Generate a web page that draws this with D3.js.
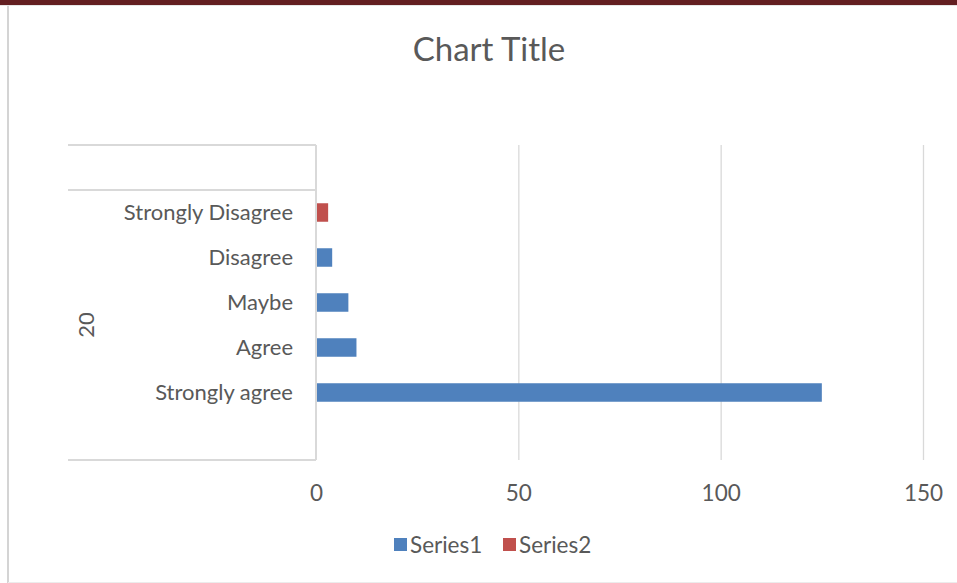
<!DOCTYPE html>
<html><head><meta charset="utf-8">
<script src="https://cdn.jsdelivr.net/npm/d3@7"></script>
<style>
html,body{margin:0;padding:0;background:#fff;}
text{font-family:Lato,"Open Sans",sans-serif;fill:#595959;}
</style></head>
<body>
<svg id="chart" width="957" height="583"></svg>
<script>
const title = "Chart Title";
const categories = ["", "Strongly agree", "Agree", "Maybe", "Disagree", "Strongly Disagree", " "];
const series1 = [null, 125, 10, 8, 4, null, null];
const series2 = [null, null, null, null, null, 3, null];
const seriesNames = ["Series1", "Series2"];
const colors = ["#4f81bd", "#c0504d"];
const xTicks = [0, 50, 100, 150];
const groupLabel = "20";

const svg = d3.select("#chart");
// frame
svg.append("rect").attr("x",0).attr("y",0).attr("width",957).attr("height",5).attr("fill","#631f21");
svg.append("line").attr("x1",0).attr("x2",957).attr("y1",5.5).attr("y2",5.5).attr("stroke","#e6e6e6");
svg.append("line").attr("x1",8).attr("x2",8).attr("y1",6).attr("y2",583).attr("stroke","#d4d4d4").attr("stroke-width",2);
svg.append("line").attr("x1",8).attr("x2",957).attr("y1",582.5).attr("y2",582.5).attr("stroke","#ececec");

const x = d3.scaleLinear().domain([0,150]).range([316,923]);
const yOuter = d3.scaleBand().domain(categories.slice().reverse()).range([145,460]).padding(0);

// gridlines
const xAxis = d3.axisBottom(x).tickValues(xTicks).tickSize(-(460-145)).tickPadding(25);
const gx = svg.append("g").attr("transform","translate(0,460)").call(xAxis);
gx.select(".domain").remove();
gx.selectAll(".tick line").attr("stroke","#d9d9d9").attr("stroke-width",1.3);
gx.selectAll(".tick text").style("font-size","22.5px").style("font-family","Lato").style("fill","#595959");
gx.selectAll(".tick").filter(d=>d===0).select("line").remove();

// category axis
svg.append("line").attr("x1",316).attr("x2",316).attr("y1",145).attr("y2",460).attr("stroke","#d9d9d9").attr("stroke-width",2);
const topBlank = categories[categories.length-1];
const hLines = [yOuter.range()[0], yOuter(topBlank)+yOuter.bandwidth(), yOuter.range()[1]];
svg.selectAll(".hl").data(hLines).enter().append("line")
  .attr("x1",68).attr("x2",316).attr("y1",d=>d).attr("y2",d=>d)
  .attr("stroke","#d9d9d9").attr("stroke-width",2);

svg.selectAll(".cat").data(categories.filter(c=>c.trim()!=="")).enter().append("text")
  .attr("x",293).attr("y",d=>yOuter(d)+yOuter.bandwidth()/2).attr("dy","0.33em")
  .attr("text-anchor","end").style("font-size","22px").text(d=>d);

const gTop = yOuter(topBlank)+yOuter.bandwidth(), gBot = 460;
svg.append("text").attr("transform",`translate(86,${(gTop+gBot)/2}) rotate(-90)`)
  .attr("text-anchor","middle").attr("dy","0.35em").style("font-size","22px").text(groupLabel);

// bars
const barH = 18.5;
[series1, series2].forEach((s,i)=>{
  svg.selectAll(".b"+i).data(categories.map((c,j)=>({c,v:s[j]})).filter(d=>d.v!=null)).enter().append("rect")
    .attr("x",x(0)+1).attr("y",d=>yOuter(d.c)+yOuter.bandwidth()/2-barH/2)
    .attr("width",d=>x(d.v)-x(0)-1).attr("height",barH).attr("fill",colors[i]);
});

// title
svg.append("text").attr("x",489).attr("y",61).attr("text-anchor","middle").style("font-size","33px").text(title);

// legend
const legX = [394, 503];
seriesNames.forEach((n,i)=>{
  svg.append("rect").attr("x",legX[i]).attr("y",538).attr("width",13).attr("height",13).attr("fill",colors[i]);
  svg.append("text").attr("x",legX[i]+16).attr("y",545).attr("dy","0.35em").style("font-size","22.5px").text(n);
});
</script>
</body></html>
